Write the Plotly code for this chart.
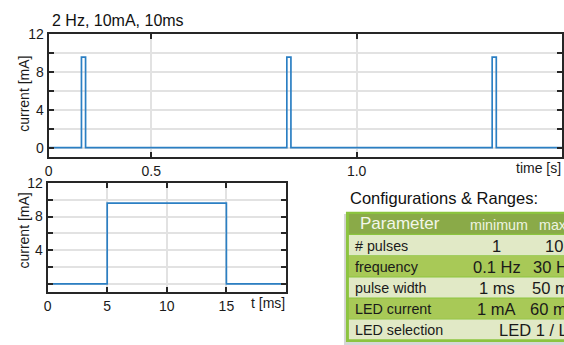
import plotly.graph_objects as go

W, H = 564, 345

# ---------------- data ----------------
title_text = "2 Hz, 10mA, 10ms"
# pulse train (time in s, current in mA) - step shape
train_t = [0.25, 0.33, 0.34, 0.83, 0.84, 1.33, 1.34, 1.50]
train_i = [0.0, 9.6, 0.0, 9.6, 0.0, 9.6, 0.0, 0.0]
train_xticks = [0.25, 0.5, 1.0, 1.5]
train_xtick_text = ["0", "0.5", "1.0", ""]

# single pulse zoom (time in ms, current in mA)
pulse_t = [0, 5, 15, 20]
pulse_i = [0.0, 9.6, 0.0, 0.0]
pulse_xticks = [0, 5, 10, 15, 20]
pulse_xtick_text = ["0", "5", "10", "15", ""]

y_ticks = [0, 2, 4, 6, 8, 10, 12]
y_text_top = ["0", "", "4", "", "8", "", "12"]
y_text_bot = ["", "", "4", "", "8", "", "12"]

# table
table_title = "Configurations & Ranges:"
table_header = ["Parameter", "minimum", "maximum"]
param_names = ["# pulses", "frequency", "pulse width", "LED current", "LED selection"]
param_min = ["1", "0.1 Hz", "1 ms", "1 mA", None]
param_max = ["10", "30 Hz", "50 ms", "60 mA", None]
param_span = [None, None, None, None, "LED 1 / LED 2"]

# ---------------- helpers ----------------
def px(x):
    return x / W

def py(y):
    return 1 - y / H

FONT = "Liberation Sans, Arial, sans-serif"
LINE = "#2b7fc3"
AX = "#262626"
GRID = "#e2e2e2"

fig = go.Figure()
fig.add_trace(go.Scatter(x=train_t, y=train_i, mode="lines", line=dict(color=LINE, width=1.7, shape="hv"),
                         xaxis="x", yaxis="y", showlegend=False, hoverinfo="skip"))
fig.add_trace(go.Scatter(x=pulse_t, y=pulse_i, mode="lines", line=dict(color=LINE, width=1.7, shape="hv"),
                         xaxis="x2", yaxis="y2", showlegend=False, hoverinfo="skip"))

axis_common = dict(showline=True, linecolor=AX, linewidth=2, mirror="ticks", ticks="inside", ticklen=5,
                   tickwidth=1.5, tickcolor=AX, showgrid=True, gridcolor=GRID, gridwidth=2, zeroline=False,
                   tickfont=dict(family=FONT, size=14, color="#1a1a1a"), fixedrange=True)

fig.update_layout(
    width=W, height=H, margin=dict(l=0, r=0, t=0, b=0),
    paper_bgcolor="white", plot_bgcolor="white",
    xaxis=dict(domain=[px(45), px(563)], anchor="y", range=[0.25, 1.5], tickmode="array",
               tickvals=train_xticks, ticktext=train_xtick_text, **axis_common),
    yaxis=dict(domain=[py(152.7), py(27)], anchor="x", range=[-1, 12], tickmode="array",
               tickvals=y_ticks, ticktext=y_text_top, **axis_common),
    xaxis2=dict(domain=[px(44), px(284.5)], anchor="y2", range=[0, 20], tickmode="array",
                tickvals=pulse_xticks, ticktext=pulse_xtick_text, **axis_common),
    yaxis2=dict(domain=[py(291), py(179)], anchor="x2", range=[-1, 12], tickmode="array",
                tickvals=y_ticks, ticktext=y_text_bot, **axis_common),
)

ann = []
ann.append(dict(text=title_text, x=px(46), y=py(13), xref="paper", yref="paper", xanchor="left",
                yanchor="middle", showarrow=False, font=dict(family=FONT, size=16, color="#111")))
ann.append(dict(text="time [s]", x=px(563.5), y=py(164), xref="paper", yref="paper", xanchor="right",
                yanchor="middle", showarrow=False, font=dict(family=FONT, size=14, color="#1a1a1a")))
ann.append(dict(text="t [ms]", x=px(286), y=py(302), xref="paper", yref="paper", xanchor="right",
                yanchor="middle", showarrow=False, font=dict(family=FONT, size=14, color="#1a1a1a")))
ann.append(dict(text="current [mA]", x=px(20), y=py(88), xref="paper", yref="paper", xanchor="center",
                yanchor="middle", textangle=-90, showarrow=False, font=dict(family=FONT, size=14, color="#1a1a1a")))
ann.append(dict(text="current [mA]", x=px(20), y=py(228), xref="paper", yref="paper", xanchor="center",
                yanchor="middle", textangle=-90, showarrow=False, font=dict(family=FONT, size=14, color="#1a1a1a")))
ann.append(dict(text=table_title, x=px(347), y=py(195), xref="paper", yref="paper", xanchor="left",
                yanchor="middle", showarrow=False, font=dict(family=FONT, size=16.5, color="#111")))

# ---------------- table shapes ----------------
FRAME = "#8cc43f"
HEAD = "#8aaa48"
LIGHT = "#e1e9c6"
MID = "#a8c957"
shapes = []
# shadow
shapes.append(dict(type="rect", xref="paper", yref="paper", x0=px(343), x1=px(620), y0=py(345), y1=py(211),
                   fillcolor="#d6d6d6", line=dict(width=0), layer="above"))
# frame
shapes.append(dict(type="rect", xref="paper", yref="paper", x0=px(345), x1=px(620), y0=py(342), y1=py(208.5),
                   fillcolor=FRAME, line=dict(width=0), layer="above"))
# header
shapes.append(dict(type="rect", xref="paper", yref="paper", x0=px(348), x1=px(620), y0=py(231), y1=py(211),
                   fillcolor=HEAD, line=dict(width=0), layer="above"))
row_edges = [232, 253.5, 275.5, 297, 318.5, 339.5]
for k in range(len(param_names)):
    col = LIGHT if k % 2 == 0 else MID
    shapes.append(dict(type="rect", xref="paper", yref="paper", x0=px(348), x1=px(620),
                       y0=py(row_edges[k + 1] - 0.5), y1=py(row_edges[k] + 0.5),
                       fillcolor=col, line=dict(width=0), layer="above"))

# header texts
ann.append(dict(text=table_header[0], x=px(357), y=py(221), xref="paper", yref="paper", xanchor="left",
                yanchor="middle", showarrow=False, font=dict(family=FONT, size=17, color="#f3f7ea")))
ann.append(dict(text=table_header[1], x=px(499), y=py(222), xref="paper", yref="paper", xanchor="center",
                yanchor="middle", showarrow=False, font=dict(family=FONT, size=14.3, color="#eef4e0")))
ann.append(dict(text=table_header[2], x=px(538), y=py(222), xref="paper", yref="paper", xanchor="left",
                yanchor="middle", showarrow=False, font=dict(family=FONT, size=14.3, color="#eef4e0")))
for k, name in enumerate(param_names):
    yc = (row_edges[k] + row_edges[k + 1]) / 2 + 0.5
    ann.append(dict(text=name, x=px(352), y=py(yc), xref="paper", yref="paper", xanchor="left",
                    yanchor="middle", showarrow=False, font=dict(family=FONT, size=14.3, color="#1a1a1a")))
    if param_min[k] is not None:
        ann.append(dict(text=param_min[k], x=px(497), y=py(yc), xref="paper", yref="paper", xanchor="center",
                        yanchor="middle", showarrow=False, font=dict(family=FONT, size=16.5, color="#1a1a1a")))
    if param_max[k] is not None:
        ann.append(dict(text=param_max[k], x=px(555), y=py(yc), xref="paper", yref="paper", xanchor="center",
                        yanchor="middle", showarrow=False, font=dict(family=FONT, size=16.5, color="#1a1a1a")))
    if param_span[k] is not None:
        ann.append(dict(text=param_span[k], x=px(497), y=py(yc), xref="paper", yref="paper", xanchor="left",
                        yanchor="middle", showarrow=False, font=dict(family=FONT, size=16.5, color="#1a1a1a")))

fig.update_layout(annotations=ann, shapes=shapes)
fig.write_html("out.html", config={"displayModeBar": False},
               post_script="document.body.style.margin='0';document.body.style.overflow='hidden';")
